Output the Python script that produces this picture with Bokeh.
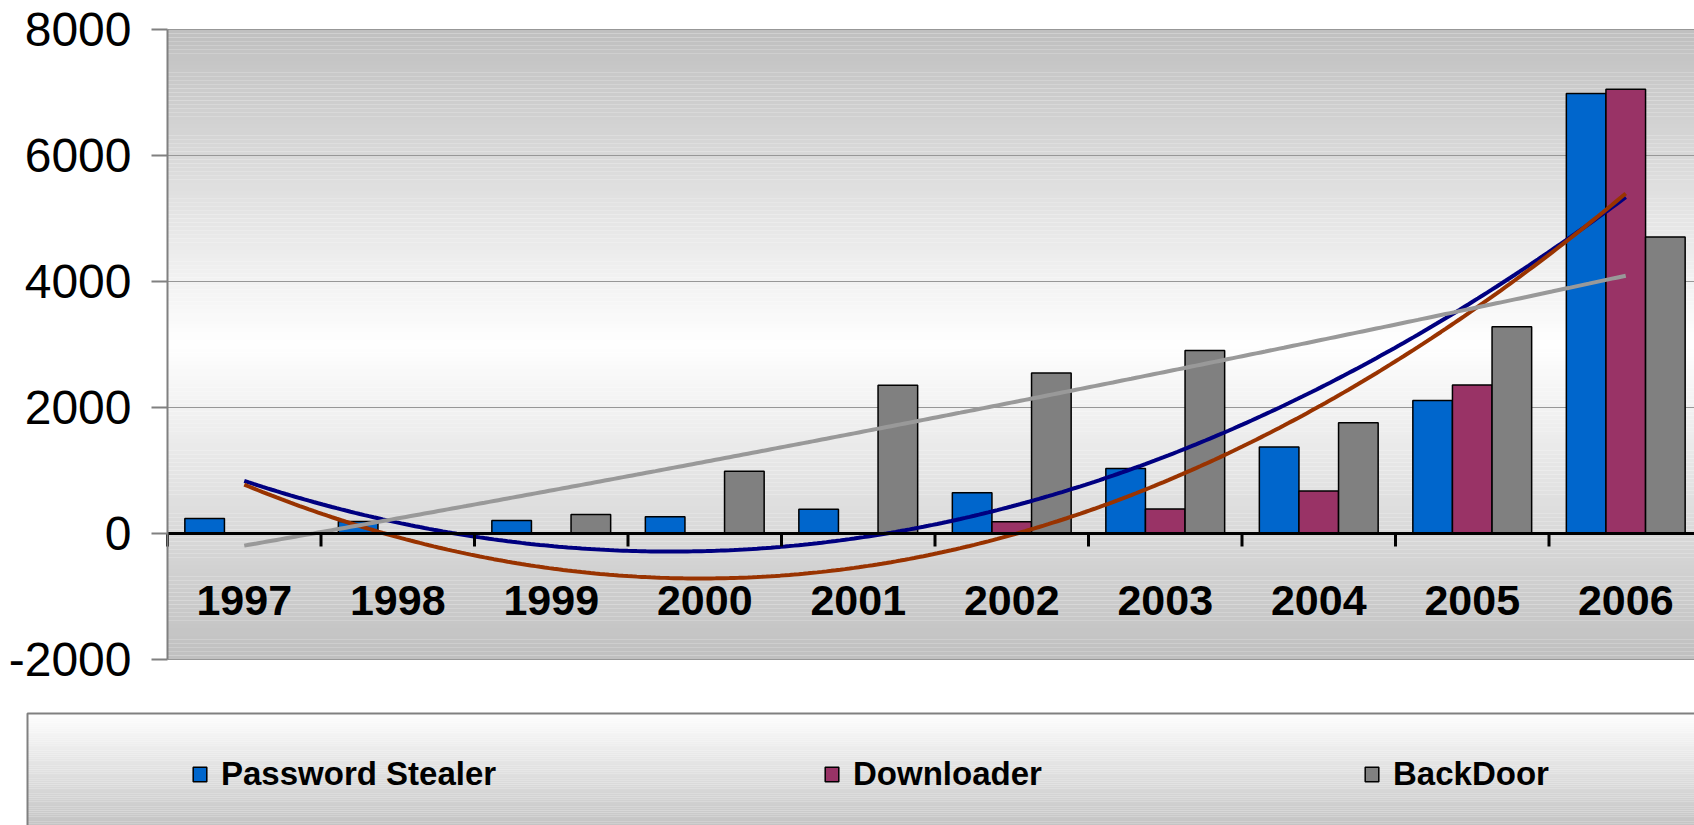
import numpy as np
from bokeh.plotting import figure
from bokeh.models import (Range1d, FixedTicker, Legend, LegendItem, PrintfTickFormatter)
from bokeh.embed import file_html
from bokeh.resources import INLINE
from bokeh.core.properties import value

# ---- data ----
years = ["1997", "1998", "1999", "2000", "2001", "2002", "2003", "2004", "2005", "2006"]
password_stealer = [240, 190, 205, 265, 386, 645, 1030, 1375, 2110, 6985]
downloader = [0, 0, 0, 0, 0, 188, 390, 676, 2359, 7053]
backdoor = [0, 0, 300, 990, 2355, 2548, 2903, 1759, 3283, 4705]
series_names = ["Password Stealer", "Downloader", "BackDoor"]
bar_colors = ["#0066CC", "#993366", "#808080"]
trend_colors = ["#000080", "#993300", "#999999"]
y_ticks = [-2000, 0, 2000, 4000, 6000, 8000]

series = [password_stealer, downloader, backdoor]
n = len(years)
centers = np.arange(n) + 0.5
bar_w = 0.258
offsets = [-bar_w, 0.0, bar_w]
YMIN, YMAX = y_ticks[0], y_ticks[-1]

FONT = "Liberation Sans"
W, H = 1694, 825
# plot-area placement on the canvas (pixels)
PA_LEFT, PA_TOP, PA_BOTTOM = 167, 29, 659
PX_PER_CAT = 153.5
PX_PER_UNIT = (PA_BOTTOM - PA_TOP) / (YMAX - YMIN)
X0 = -PA_LEFT / PX_PER_CAT
X1 = X0 + W / PX_PER_CAT
Y1 = YMAX + PA_TOP / PX_PER_UNIT
Y0 = YMIN - (H - PA_BOTTOM) / PX_PER_UNIT

p = figure(width=W, height=H, output_backend="svg", toolbar_location=None,
           x_range=Range1d(X0, X1), y_range=Range1d(Y0, Y1),
           x_axis_location=None, min_border=0)
p.outline_line_color = None
p.background_fill_color = "white"
p.border_fill_color = "white"
p.xgrid.visible = False
p.ygrid.visible = False

# gradient plot-area background (grey -> white at centre -> grey)
edges = np.linspace(YMIN, YMAX, 161)
mid = (edges[:-1] + edges[1:]) / 2
d = np.abs(mid - (YMIN + YMAX) / 2) / ((YMAX - YMIN) / 2)
g = (255 - 63 * d).astype(int)
p.quad(left=0, right=X1 + 1, bottom=edges[:-1], top=edges[1:],
       fill_color=["#%02x%02x%02x" % (v, v, v) for v in g], line_color=None)

# horizontal grid lines at the y ticks
p.segment(x0=0, x1=X1 + 1, y0=y_ticks, y1=y_ticks, line_color="#979797", line_width=1.2)

# y axis drawn at the left edge of the plot area
ax = p.yaxis[0]
ax.fixed_location = 0
ax.bounds = (YMIN, YMAX)
ax.ticker = FixedTicker(ticks=y_ticks)
ax.formatter = PrintfTickFormatter(format="%d")
ax.axis_line_color = "#808080"
ax.axis_line_width = 2
ax.major_tick_line_color = "#808080"
ax.major_tick_line_width = 2
ax.major_tick_in = 0
ax.major_tick_out = 16
ax.minor_tick_line_color = None
ax.major_label_text_font = FONT
ax.major_label_text_font_size = "48px"
ax.major_label_text_color = "black"
ax.major_label_standoff = 20

# bars
bar_renderers = []
for vals, col, off in zip(series, bar_colors, offsets):
    r = p.vbar(x=centers + off, top=vals, bottom=0, width=bar_w, fill_color=col,
               line_color="black", line_width=1.5)
    bar_renderers.append(r)

# polynomial (order 2) trend lines fitted to each series
xi = np.arange(n)
xs = np.linspace(0, n - 1, 300)
for vals, col in zip(series, trend_colors):
    coef = np.polyfit(xi, np.array(vals, dtype=float), 2)
    p.line(xs + 0.5, np.polyval(coef, xs), line_color=col, line_width=4)

# category axis at zero
p.segment(x0=[0], x1=[X1 + 1], y0=[0], y1=[0], line_color="black", line_width=3)
p.ray(x=np.arange(n + 1), y=np.zeros(n + 1), length=13, length_units="screen",
      angle=-np.pi / 2, line_color="black", line_width=3)
p.text(x=centers, y=np.zeros(n), text=years, y_offset=67,
       text_font=value(FONT), text_font_style="bold", text_font_size="43px",
       text_align="center", text_baseline="middle", text_color="black")

# ---- legend box with vertical gradient (white -> grey) ----
LB_LEFT = X0 + 27 / PX_PER_CAT
LB_TOP = YMIN - (713 - PA_BOTTOM) / PX_PER_UNIT
le = np.linspace(LB_TOP, Y0, 61)
lm = (np.arange(60) + 0.5) / 60
lg = (255 - (255 - 196) * lm).astype(int)
p.quad(left=LB_LEFT, right=X1 + 1, top=le[:-1], bottom=le[1:],
       fill_color=["#%02x%02x%02x" % (v, v, v) for v in lg], line_color=None)
p.quad(left=[LB_LEFT], right=[X1 + 1], top=[LB_TOP], bottom=[Y0 - 500],
       fill_alpha=0, line_color="#808080", line_width=2)

legend_x = [191, 823, 1363]
for name, r, lx in zip(series_names, bar_renderers, legend_x):
    lg_ = Legend(items=[LegendItem(label=name, renderers=[r])],
                 location=(lx, 32), orientation="horizontal",
                 background_fill_alpha=0, border_line_color=None,
                 padding=0, margin=0, glyph_width=17, glyph_height=18,
                 label_standoff=13, label_text_font=FONT, label_text_font_style="bold",
                 label_text_font_size="33px", label_text_color="black")
    p.add_layout(lg_, "center")

open("out.html", "w").write(file_html(p, INLINE))
